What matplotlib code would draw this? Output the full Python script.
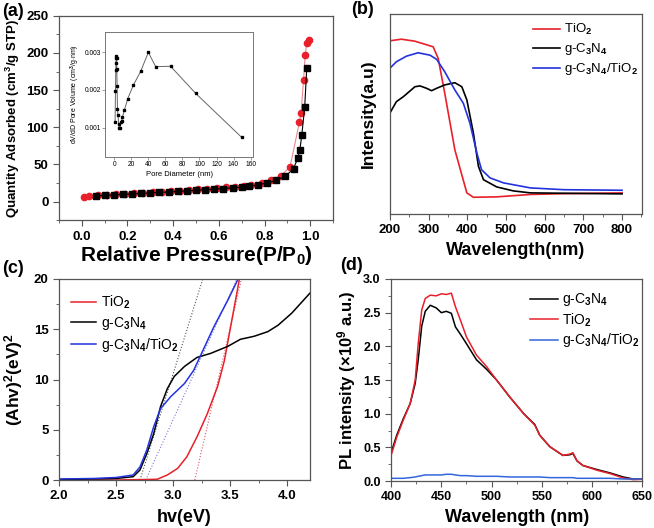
import numpy as np
import matplotlib.pyplot as plt
from matplotlib.ticker import AutoMinorLocator

# ---- (a) N2 isotherm ----
p_black = [0.06, 0.10, 0.14, 0.18, 0.22, 0.26, 0.30, 0.34, 0.38, 0.42, 0.46, 0.50, 0.54, 0.58,
           0.62, 0.66, 0.70, 0.73, 0.77, 0.81, 0.85, 0.89, 0.927, 0.946, 0.955, 0.963, 0.976, 0.985]
q_black = [7.5, 8.3, 9.0, 9.7, 10.3, 11.0, 11.7, 12.3, 13.0, 13.7, 14.4, 15.2, 16.0, 16.8,
           17.6, 18.5, 19.5, 20.5, 22.5, 25.0, 28.5, 34.0, 44.0, 59.0, 70.0, 89.0, 127.0, 180.0]
p_red = [0.01, 0.03, 0.07, 0.11, 0.15, 0.19, 0.23, 0.27, 0.31, 0.35, 0.39, 0.43, 0.47, 0.51,
         0.55, 0.59, 0.63, 0.67, 0.71, 0.74, 0.79, 0.83, 0.873, 0.912, 0.953, 0.96, 0.971, 0.978, 0.985, 0.993]
q_red = [6.0, 7.0, 8.3, 9.0, 9.8, 10.5, 11.2, 11.8, 12.5, 13.2, 13.9, 14.7, 15.5, 16.3,
         17.1, 18.0, 19.0, 20.0, 21.6, 23.0, 25.5, 28.5, 35.0, 47.0, 107.0, 119.0, 164.0, 197.0, 213.0, 218.0]

# inset: pore size distribution
pore_d = [0.8, 1.3, 1.6, 1.8, 2.0, 2.2, 2.5, 2.8, 3.2, 3.6, 4.2, 5.0, 5.5, 6.5, 7.5, 8.5, 9.4, 11.8,
          15.7, 22.3, 31.0, 39.9, 48.5, 66.0, 95.5, 149.4]
pore_v = [0.00115, 0.00197, 0.00253, 0.00271, 0.00284, 0.00290, 0.00285, 0.00255, 0.00210, 0.00150,
          0.00134, 0.00110, 0.00100, 0.00098, 0.00114, 0.00118, 0.00127, 0.00147,
          0.00177, 0.00213, 0.00250, 0.00300, 0.00262, 0.00263, 0.00191, 0.000745]

# ---- (b) UV-vis DRS ----
wl_tio2 = [200, 230, 265, 312, 325, 342, 368, 399, 416, 476, 563, 649, 800]
ab_tio2 = [0.867, 0.875, 0.865, 0.837, 0.779, 0.604, 0.321, 0.105, 0.083, 0.085, 0.097, 0.101, 0.105]
wl_cn = [200, 217, 235, 265, 278, 295, 308, 321, 342, 368, 386, 399, 416, 429, 442, 476, 519, 563, 800]
ab_cn = [0.504, 0.562, 0.587, 0.637, 0.641, 0.629, 0.617, 0.629, 0.646, 0.657, 0.637, 0.571, 0.404,
         0.238, 0.171, 0.135, 0.115, 0.105, 0.100]
wl_comp = [200, 217, 243, 273, 304, 321, 342, 368, 390, 407, 425, 437, 459, 494, 563, 649, 800]
ab_comp = [0.729, 0.762, 0.790, 0.807, 0.795, 0.774, 0.712, 0.621, 0.554, 0.454, 0.304, 0.221,
           0.180, 0.155, 0.130, 0.121, 0.118]

# ---- (c) Tauc plot ----
hv_cn = [2.0, 2.3, 2.5, 2.65, 2.71, 2.77, 2.83, 2.89, 2.95, 3.01, 3.10, 3.21, 3.33, 3.48, 3.59,
         3.71, 3.83, 3.92, 4.04, 4.2]
t_cn = [0.05, 0.1, 0.15, 0.33, 1.0, 2.65, 4.6, 7.3, 9.1, 10.3, 11.3, 12.2, 12.6, 13.3, 14.0,
        14.3, 14.76, 15.4, 16.6, 18.6]
hv_comp = [2.0, 2.3, 2.5, 2.65, 2.71, 2.77, 2.83, 2.89, 2.98, 3.10, 3.18, 3.27, 3.36, 3.48, 3.57]
t_comp = [0.1, 0.15, 0.25, 0.5, 1.3, 3.0, 5.3, 7.1, 8.3, 9.6, 10.9, 13.1, 15.3, 17.9, 20.0]
hv_tio2 = [2.0, 2.5, 2.86, 2.95, 3.04, 3.12, 3.21, 3.30, 3.39, 3.45, 3.51, 3.58]
t_tio2 = [0.0, 0.0, 0.07, 0.5, 1.16, 2.3, 4.3, 6.6, 9.3, 11.9, 15.6, 19.9]
# tangent lines (x at y=0, x at y=20)
fit_cn = [2.71, 3.26]
fit_comp = [2.76, 3.56]
fit_tio2 = [3.19, 3.60]

# ---- (d) PL spectra ----
wl_pl = [400, 405.6, 412, 419, 424, 427, 430.5, 434, 439, 445, 450, 455, 460, 464, 469, 475, 485,
         495, 505, 518, 532, 543, 548, 558, 571, 578, 581, 585, 591, 605, 618, 631, 641, 650]
pl_tio2 = [0.38, 0.65, 0.90, 1.15, 1.50, 2.04, 2.54, 2.71, 2.76, 2.75, 2.78, 2.77, 2.79, 2.59, 2.39,
           2.14, 1.87, 1.70, 1.50, 1.25, 1.00, 0.83, 0.68, 0.51, 0.38, 0.40, 0.42, 0.30, 0.23, 0.16,
           0.11, 0.045, 0.02, 0.025]
pl_cn = [0.42, 0.68, 0.92, 1.15, 1.45, 1.80, 2.30, 2.52, 2.61, 2.57, 2.50, 2.52, 2.49, 2.29, 2.18,
         2.04, 1.80, 1.66, 1.50, 1.25, 1.00, 0.84, 0.68, 0.51, 0.38, 0.39, 0.41, 0.30, 0.23, 0.17,
         0.12, 0.06, 0.03, 0.03]
pl_comp = [0.04, 0.04, 0.04, 0.05, 0.06, 0.07, 0.08, 0.09, 0.09, 0.09, 0.09, 0.10, 0.10, 0.09, 0.08,
           0.08, 0.07, 0.07, 0.07, 0.06, 0.06, 0.06, 0.06, 0.05, 0.05, 0.05, 0.05, 0.04, 0.04, 0.04,
           0.04, 0.03, 0.03, 0.03]

RED = '#e8202a'
BLUE = '#2233dd'
SPINE = '#555555'

plt.rcParams['font.family'] = 'Liberation Sans'
plt.rcParams['font.weight'] = 'bold'
plt.rcParams['axes.labelweight'] = 'bold'
plt.rcParams['mathtext.fontset'] = 'custom'
plt.rcParams['mathtext.rm'] = 'Liberation Sans'
plt.rcParams['mathtext.bf'] = 'Liberation Sans:bold'
plt.rcParams['mathtext.it'] = 'Liberation Sans:italic'


def style(ax, fs=9.5):
    for s in ax.spines.values():
        s.set_color(SPINE)
        s.set_linewidth(0.9)
    ax.tick_params(which='both', direction='out', color=SPINE, labelsize=fs, top=False, right=False)
    ax.tick_params(which='major', length=4)
    ax.tick_params(which='minor', length=2)
    ax.xaxis.set_minor_locator(AutoMinorLocator(2))
    ax.yaxis.set_minor_locator(AutoMinorLocator(2))
    for t in ax.get_xticklabels() + ax.get_yticklabels():
        t.set_fontweight('bold')


def plain_legend(lg):
    for t in lg.get_texts():
        t.set_fontweight('normal')


fig = plt.figure(figsize=(6.54, 5.28), dpi=100)

# (a)
axa = fig.add_axes([0.0902, 0.583, 0.419, 0.387])
axa.plot(p_red, q_red, '-', color='#e88a90', lw=0.8, marker='o', ms=4.5, mfc=RED, mec=RED)
axa.plot(p_black, q_black, '-', color='black', lw=0.8, marker='s', ms=4, mfc='black', mec='black')
axa.set_xlim(-0.1, 1.1)
axa.set_ylim(-25, 250)
axa.set_xticks([0.0, 0.2, 0.4, 0.6, 0.8, 1.0])
axa.set_yticks([0, 50, 100, 150, 200, 250])
style(axa, 9.5)
axa.set_xlabel('Relative Pressure(P/P$_\\mathbf{0}$)', fontsize=15, labelpad=1)
axa.set_ylabel('Quantity Adsorbed (cm$^\\mathbf{3}$/g STP)', fontsize=9.5, labelpad=3)

ins = fig.add_axes([0.1606, 0.7027, 0.2264, 0.2367])
ins.plot(pore_d, pore_v, '-', color='#666666', lw=0.7, marker='s', ms=2, mfc='black', mec='black')
ins.set_xlim(-11, 163)
ins.set_ylim(0.00022, 0.00354)
ins.set_xticks(range(0, 161, 20))
ins.set_yticks([0.001, 0.002, 0.003])
for s in ins.spines.values():
    s.set_color('#777777')
    s.set_linewidth(0.7)
ins.tick_params(labelsize=4.8, length=2, width=0.5, color='#777777', pad=1)
for t in ins.get_xticklabels() + ins.get_yticklabels():
    t.set_fontweight('normal')
ins.set_xlabel('Pore Diameter (nm)', fontsize=5.5, fontweight='normal', labelpad=2)
ins.set_ylabel('dV/dD Pore Volume (cm$^3$/g$\\cdot$nm)', fontsize=5, fontweight='normal', labelpad=2)

# (b)
axb = fig.add_axes([0.596, 0.595, 0.386, 0.378])
axb.plot(wl_tio2, ab_tio2, color=RED, lw=1.2, label='TiO$_2$')
axb.plot(wl_cn, ab_cn, color='black', lw=1.2, label='g-C$_3$N$_4$')
axb.plot(wl_comp, ab_comp, color=BLUE, lw=1.2, label='g-C$_3$N$_4$/TiO$_2$')
axb.set_xlim(200, 852)
axb.set_ylim(0, 1)
axb.set_xticks(range(200, 801, 100))
axb.set_yticks([])
style(axb, 9.5)
axb.yaxis.set_minor_locator(plt.NullLocator())
axb.set_xlabel('Wavelength(nm)', fontsize=13, labelpad=4)
axb.set_ylabel('Intensity(a.u)', fontsize=12.5, labelpad=10)
plain_legend(axb.legend(loc='upper right', frameon=False, fontsize=9.5, handlelength=2.0,
                        handletextpad=0.3, bbox_to_anchor=(1.03, 1.02), labelspacing=0.3))

# (c)
axc = fig.add_axes([0.0902, 0.0909, 0.3838, 0.3807])
axc.plot(fit_cn, [0, 20], ':', color='#555555', lw=0.8)
axc.plot(fit_comp, [0, 20], ':', color='#7777dd', lw=0.8)
axc.plot(fit_tio2, [0, 20], ':', color='#dd5566', lw=0.8)
axc.plot(hv_tio2, t_tio2, color=RED, lw=1.1, label='TiO$_2$')
axc.plot(hv_cn, t_cn, color='black', lw=1.1, label='g-C$_3$N$_4$')
axc.plot(hv_comp, t_comp, color=BLUE, lw=1.1, label='g-C$_3$N$_4$/TiO$_2$')
axc.set_xlim(2.0, 4.2)
axc.set_ylim(0, 20)
axc.set_xticks([2.0, 2.5, 3.0, 3.5, 4.0])
axc.set_yticks([0, 5, 10, 15, 20])
style(axc, 9.5)
axc.set_xlabel('hv(eV)', fontsize=13, labelpad=5)
axc.set_ylabel('(Ahv)$^\\mathbf{2}$(eV)$^\\mathbf{2}$', fontsize=12.5, labelpad=6)
plain_legend(axc.legend(loc='upper left', frameon=False, fontsize=10, handlelength=1.8,
                        handletextpad=0.3, bbox_to_anchor=(0.0, 0.99), labelspacing=0.3))

# (d)
axd = fig.add_axes([0.598, 0.089, 0.384, 0.3826])
axd.plot(wl_pl, pl_cn, color='black', lw=1.1, label='g-C$_3$N$_4$')
axd.plot(wl_pl, pl_tio2, color=RED, lw=1.1, label='TiO$_2$')
axd.plot(wl_pl, pl_comp, color='#3366dd', lw=1.1, label='g-C$_3$N$_4$/TiO$_2$')
axd.set_xlim(400, 650)
axd.set_ylim(0, 3.0)
axd.set_xticks(range(400, 651, 50))
axd.set_yticks([0.0, 0.5, 1.0, 1.5, 2.0, 2.5, 3.0])
style(axd, 9)
axd.set_xlabel('Wavelength (nm)', fontsize=13, labelpad=4)
axd.set_ylabel('PL intensity (×10$^\\mathbf{9}$ a.u.)', fontsize=12, labelpad=4)
plain_legend(axd.legend(loc='upper right', frameon=False, fontsize=10, handlelength=2.0,
                        handletextpad=0.3, bbox_to_anchor=(1.04, 1.0), labelspacing=0.2))

# panel letters
for txt, x, y in [('(a)', 0.003, 0.995), ('(b)', 0.537, 0.998), ('(c)', 0.003, 0.507), ('(d)', 0.52, 0.513)]:
    fig.text(x, y, txt, fontsize=13, fontweight='bold', va='top', ha='left')

fig.savefig('out.png', dpi=100)
